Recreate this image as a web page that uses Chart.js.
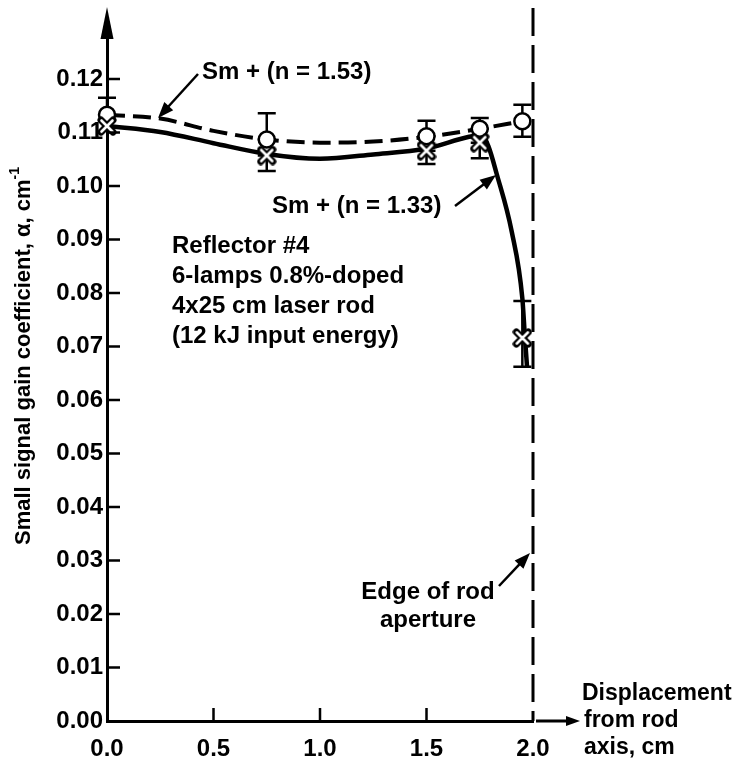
<!DOCTYPE html>
<html>
<head>
<meta charset="utf-8">
<script src="https://cdn.jsdelivr.net/npm/chart.js@4.4.0/dist/chart.umd.min.js"></script>
<style>
  html, body { margin: 0; padding: 0; background: #fff; }
  canvas { display: block; }
</style>
</head>
<body>
<canvas id="gainChart" width="737" height="766"></canvas>
<script>
// marker positions (cm from rod axis) and measured gain
const markX    = [0, 0.75, 1.5, 1.75, 1.95];
const gain153  = [0.1133, 0.1087, 0.1093, 0.1107, 0.1121];
const gain133  = [0.1112, 0.1057, 0.1066, 0.1081, 0.0716];
// error bar ends
const err153Hi = [0.1165, 0.1136, 0.1122, 0.1127, 0.1152];
const err153Lo = [0.1133, 0.1087, 0.1093, 0.1107, 0.1092];
const err133Hi = [0.1112, 0.1057, 0.1066, 0.1081, 0.0785];
const err133Lo = [0.1112, 0.1028, 0.1041, 0.1052, 0.0662];

// fitted curves
const curve153X = [0, 0.25, 0.5, 0.75, 1.0, 1.25, 1.5, 1.75, 1.95];
const curve153Y = [0.1133, 0.1126, 0.1103, 0.1087, 0.1081, 0.1083, 0.1092, 0.1107, 0.1121];
const curve133X = [0, 0.25, 0.5, 0.75, 1.0, 1.25, 1.5, 1.7, 1.76, 1.79, 1.83, 1.9, 1.95, 1.962, 1.972];
const curve133Y = [0.1112, 0.1101, 0.1080, 0.1060, 0.1051, 0.1059, 0.1070, 0.1092, 0.1095, 0.1075, 0.1022, 0.0915, 0.0790, 0.0718, 0.0662];

const yTicks = [0.01, 0.02, 0.03, 0.04, 0.05, 0.06, 0.07, 0.08, 0.09, 0.10, 0.11, 0.12];
const xTicks = [0.5, 1.0, 1.5];
const apertureEdge = 2.0;

const FONT = '"Liberation Sans", Arial, sans-serif';

const pts = (xs, ys) => xs.map((x, i) => ({ x: x, y: ys[i] }));

// hollow "x" marker
function makeCross() {
  const c = document.createElement('canvas');
  c.width = 20; c.height = 20;
  const g = c.getContext('2d');
  g.lineCap = 'round';
  g.strokeStyle = '#000'; g.lineWidth = 7;
  g.beginPath(); g.moveTo(4, 4); g.lineTo(16, 16); g.moveTo(16, 4); g.lineTo(4, 16); g.stroke();
  g.strokeStyle = '#fff'; g.lineWidth = 2.6;
  g.beginPath(); g.moveTo(4.5, 4.5); g.lineTo(15.5, 15.5); g.moveTo(15.5, 4.5); g.lineTo(4.5, 15.5); g.stroke();
  return c;
}

function arrow(ctx, x1, y1, x2, y2, len, half) {
  const a = Math.atan2(y2 - y1, x2 - x1);
  ctx.beginPath();
  ctx.moveTo(x1, y1);
  ctx.lineTo(x2 - Math.cos(a) * len * 0.8, y2 - Math.sin(a) * len * 0.8);
  ctx.stroke();
  ctx.beginPath();
  ctx.moveTo(x2, y2);
  ctx.lineTo(x2 - Math.cos(a) * len + Math.sin(a) * half, y2 - Math.sin(a) * len - Math.cos(a) * half);
  ctx.lineTo(x2 - Math.cos(a) * len - Math.sin(a) * half, y2 - Math.sin(a) * len + Math.cos(a) * half);
  ctx.closePath();
  ctx.fill();
}

const errorBars = {
  id: 'errorBars',
  afterDatasetDraw(chart, args) {
    if (args.index !== 2) return; // after the solid curve, before the markers
    const { ctx, scales: { x, y } } = chart;
    ctx.save();
    ctx.strokeStyle = '#000';
    ctx.lineWidth = 2.5;
    const bar = (xv, lo, hi) => {
      const px = x.getPixelForValue(xv);
      const p1 = y.getPixelForValue(lo), p2 = y.getPixelForValue(hi);
      ctx.beginPath();
      ctx.moveTo(px, p1); ctx.lineTo(px, p2);
      ctx.moveTo(px - 9, p1); ctx.lineTo(px + 9, p1);
      ctx.moveTo(px - 9, p2); ctx.lineTo(px + 9, p2);
      ctx.stroke();
    };
    markX.forEach((xv, i) => {
      if (err153Hi[i] !== err153Lo[i]) bar(xv, err153Lo[i], err153Hi[i]);
      if (err133Hi[i] !== err133Lo[i]) bar(xv, err133Lo[i], err133Hi[i]);
    });
    ctx.restore();
  }
};

const decorations = {
  id: 'decorations',
  afterDraw(chart) {
    const { ctx, chartArea: a, scales: { x, y } } = chart;
    ctx.save();
    ctx.strokeStyle = '#000';
    ctx.fillStyle = '#000';

    // inward ticks
    ctx.lineWidth = 2.5;
    ctx.beginPath();
    yTicks.forEach(v => { const p = y.getPixelForValue(v); ctx.moveTo(a.left, p); ctx.lineTo(a.left + 13, p); });
    xTicks.forEach(v => { const p = x.getPixelForValue(v); ctx.moveTo(p, a.bottom); ctx.lineTo(p, a.bottom - 13); });
    ctx.stroke();

    // axis arrows
    ctx.lineWidth = 3;
    arrow(ctx, a.left, a.top, a.left, 7, 32, 6.5);
    arrow(ctx, x.getPixelForValue(apertureEdge) + 3, a.bottom, 580, a.bottom, 14, 5);

    // edge of rod aperture
    const ex = x.getPixelForValue(apertureEdge);
    ctx.setLineDash([28, 9]);
    ctx.lineWidth = 3;
    ctx.beginPath(); ctx.moveTo(ex, 8); ctx.lineTo(ex, a.bottom); ctx.stroke();
    ctx.setLineDash([]);

    // labels
    ctx.font = 'bold 24px ' + FONT;
    ctx.textBaseline = 'middle';
    ctx.textAlign = 'left';
    ctx.fillText('Sm + (n = 1.53)', 202, 72);
    ctx.fillText('Sm + (n = 1.33)', 272, 206);
    ctx.fillText('Reflector #4', 172, 246);
    ctx.fillText('6-lamps 0.8%-doped', 172, 276);
    ctx.fillText('4x25 cm laser rod', 172, 306);
    ctx.fillText('(12 kJ input energy)', 172, 336);
    ctx.textAlign = 'center';
    ctx.fillText('Edge of rod', 428, 592);
    ctx.fillText('aperture', 428, 620);
    ctx.font = 'bold 23px ' + FONT;
    ctx.textAlign = 'left';
    ctx.fillText('Displacement', 582, 694);
    ctx.fillText('from rod', 584, 721);
    ctx.fillText('axis, cm', 584, 748);

    ctx.lineWidth = 2.5;
    arrow(ctx, 198, 74, 158, 118, 16, 6);
    arrow(ctx, 455, 206, 496, 175, 16, 6);
    arrow(ctx, 499, 586, 530, 553, 16, 6);

    // y axis title
    ctx.translate(24, 356);
    ctx.rotate(-Math.PI / 2);
    const main = 'Small signal gain coefficient, \u03b1, cm';
    ctx.font = 'bold 14px ' + FONT;
    const supW = ctx.measureText('-1').width;
    ctx.font = 'bold 22px ' + FONT;
    const w = ctx.measureText(main).width + supW;
    ctx.textAlign = 'left';
    ctx.fillText(main, -w / 2, 0);
    ctx.font = 'bold 14px ' + FONT;
    ctx.fillText('-1', -w / 2 + w - supW, -9);
    ctx.restore();
  }
};

new Chart(document.getElementById('gainChart'), {
  type: 'scatter',
  data: {
    datasets: [
      { label: 'x133', data: pts(markX, gain133), showLine: false, clip: false,
        pointStyle: makeCross(), pointRadius: 10 },
      { label: 'o153', data: pts(markX, gain153), showLine: false, clip: false,
        pointStyle: 'circle', pointRadius: 8, backgroundColor: '#fff', borderColor: '#000', borderWidth: 2.5 },
      { label: 'Sm + (n = 1.33)', data: pts(curve133X, curve133Y), showLine: true, pointRadius: 0,
        borderColor: '#000', borderWidth: 4.5, cubicInterpolationMode: 'monotone', clip: false },
      { label: 'Sm + (n = 1.53)', data: pts(curve153X, curve153Y), showLine: true, pointRadius: 0,
        borderColor: '#000', borderWidth: 4, borderDash: [18, 8], cubicInterpolationMode: 'monotone', clip: false }
    ]
  },
  options: {
    responsive: false,
    devicePixelRatio: 1,
    animation: false,
    layout: { padding: { top: 25.5, right: 204, left: 0, bottom: 0 } },
    plugins: { legend: { display: false }, tooltip: { enabled: false } },
    scales: {
      x: {
        type: 'linear', min: 0, max: 2.0,
        afterFit: s => { s.height = 45; },
        grid: { display: false, drawTicks: false },
        border: { display: true, color: '#000', width: 3 },
        ticks: { stepSize: 0.5, padding: 14, color: '#000', font: { family: FONT, size: 24, weight: 'bold' },
                 callback: v => v.toFixed(1) }
      },
      y: {
        min: 0, max: 0.13,
        afterFit: s => { s.width = 107; },
        grid: { display: false, drawTicks: false },
        border: { display: true, color: '#000', width: 3 },
        ticks: { stepSize: 0.01, padding: 4, color: '#000', font: { family: FONT, size: 24, weight: 'bold' },
                 callback: v => v > 0.125 ? '' : v.toFixed(2) }
      }
    }
  },
  plugins: [errorBars, decorations]
});
</script>
</body>
</html>
